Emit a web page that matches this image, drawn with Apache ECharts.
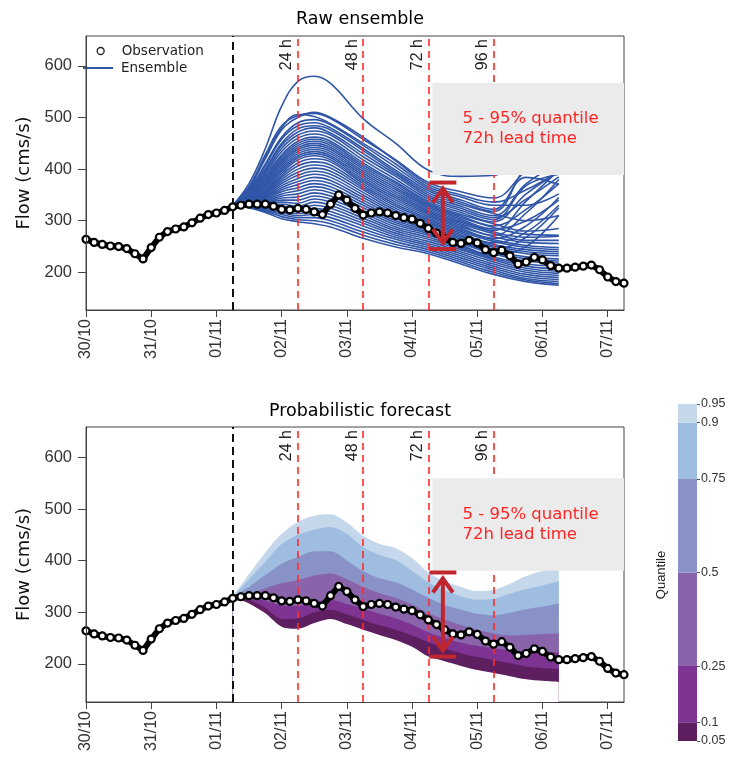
<!DOCTYPE html>
<html>
<head>
<meta charset="utf-8">
<script src="https://cdn.jsdelivr.net/npm/echarts@6/dist/echarts.min.js"></script>
<style>
  html, body { margin: 0; padding: 0; background: #fff; }
  #chart { width: 736px; height: 763px; }
</style>
</head>
<body>
<div id="chart"></div>
<script>
// ---- data -------------------------------------------------------------
// x axis is hours since 30/10 00:00; one label per day
const dayLabels = ['30/10', '31/10', '01/11', '02/11', '03/11', '04/11', '05/11', '06/11', '07/11'];
const flowTicks = [200, 300, 400, 500, 600];

// observed flow (cms/s), every 3 h from 30/10 00:00
const obsStepHours = 3;
const obsFlow = [
  264, 258, 254, 251, 250, 246, 236, 226, 248, 268,
  279, 284, 288, 296, 305, 312, 315, 320, 327, 330,
  332, 332, 332, 328, 322, 321, 324, 322, 317, 312,
  332, 350, 340, 324, 311, 315, 317, 315, 310, 306,
  303, 295, 285, 276, 266, 258, 256, 262, 257, 244,
  238, 243, 232, 216, 220, 229, 224, 213, 208, 208,
  210, 212, 214, 205, 191, 182, 179
];

// forecast issued 01/11 06:00
const issueHour = 54;
const leadMarks = [24, 48, 72, 96];
const leadMarkLabels = ['24 h', '48 h', '72 h', '96 h'];

// raw ensemble members, flow at these lead times (h)
const memberLeads = [0, 6, 12, 18, 24, 30, 36, 48, 60, 72, 84, 96, 108, 120];
const ensembleMembers = [
  [330, 372, 440, 522, 570, 580, 566, 498, 450, 398, 386, 388, 440, 470],
  [330, 366, 428, 484, 504, 508, 498, 458, 418, 374, 356, 344, 396, 430],
  [330, 364, 420, 476, 500, 510, 500, 462, 416, 370, 350, 336, 360, 395],
  [330, 362, 424, 480, 506, 502, 488, 450, 410, 366, 346, 330, 330, 352],
  [330, 360, 410, 462, 490, 496, 486, 446, 404, 362, 340, 322, 384, 370],
  [330, 358, 406, 458, 484, 490, 480, 440, 398, 358, 336, 318, 405, 450],
  [330, 357, 400, 450, 478, 484, 476, 436, 394, 354, 332, 314, 300, 310],
  [330, 355, 398, 446, 472, 480, 470, 430, 390, 350, 328, 310, 372, 410],
  [330, 354, 394, 440, 466, 474, 466, 424, 386, 346, 324, 306, 342, 385],
  [330, 352, 390, 434, 460, 468, 460, 418, 380, 342, 320, 302, 368, 390],
  [330, 351, 386, 428, 454, 462, 454, 412, 375, 338, 316, 298, 352, 395],
  [330, 350, 384, 424, 450, 458, 450, 408, 372, 335, 312, 294, 280, 285],
  [330, 349, 380, 420, 446, 454, 446, 404, 368, 332, 309, 290, 322, 372],
  [330, 348, 378, 416, 442, 450, 442, 400, 364, 329, 306, 287, 274, 272],
  [330, 347, 375, 412, 438, 446, 438, 396, 360, 326, 303, 284, 300, 340],
  [330, 346, 372, 408, 434, 442, 434, 392, 356, 323, 300, 281, 338, 398],
  [330, 345, 369, 404, 430, 438, 430, 388, 352, 320, 297, 278, 268, 270],
  [330, 344, 366, 400, 426, 434, 426, 384, 348, 317, 294, 275, 262, 262],
  [330, 343, 363, 396, 422, 430, 422, 380, 344, 314, 291, 272, 315, 380],
  [330, 342, 360, 392, 418, 426, 418, 376, 340, 311, 288, 269, 258, 256],
  [330, 341, 358, 388, 412, 420, 414, 372, 336, 308, 285, 266, 290, 345],
  [330, 340, 356, 384, 406, 414, 408, 368, 332, 305, 282, 263, 252, 248],
  [330, 339, 354, 380, 400, 408, 402, 364, 328, 302, 279, 260, 248, 244],
  [330, 338, 352, 376, 394, 402, 396, 360, 324, 299, 276, 257, 278, 330],
  [330, 338, 350, 372, 388, 396, 390, 355, 320, 296, 273, 254, 244, 240],
  [330, 337, 348, 368, 382, 390, 384, 350, 316, 293, 270, 251, 240, 236],
  [330, 336, 346, 364, 376, 384, 378, 345, 312, 290, 267, 248, 236, 232],
  [330, 336, 344, 360, 370, 378, 372, 340, 308, 287, 264, 245, 268, 325],
  [330, 335, 342, 356, 364, 372, 366, 335, 304, 284, 261, 242, 230, 226],
  [330, 334, 340, 352, 358, 366, 360, 330, 300, 281, 258, 239, 226, 222],
  [330, 334, 338, 348, 352, 360, 354, 325, 296, 278, 256, 236, 222, 218],
  [330, 333, 336, 344, 346, 354, 348, 320, 292, 275, 253, 233, 250, 310],
  [330, 332, 334, 340, 340, 348, 342, 315, 288, 272, 250, 230, 216, 212],
  [330, 332, 332, 336, 334, 342, 336, 310, 284, 268, 247, 227, 212, 207],
  [330, 331, 330, 332, 328, 336, 330, 305, 280, 264, 244, 224, 208, 202],
  [330, 330, 328, 328, 322, 330, 324, 300, 276, 260, 240, 220, 204, 198],
  [330, 330, 326, 324, 318, 324, 318, 295, 272, 256, 236, 216, 200, 194],
  [330, 329, 324, 320, 314, 318, 312, 290, 268, 252, 232, 212, 196, 190],
  [330, 328, 322, 316, 310, 312, 306, 284, 264, 248, 228, 208, 192, 186],
  [330, 327, 320, 312, 306, 306, 300, 278, 259, 244, 224, 204, 188, 182],
  [330, 326, 318, 308, 302, 300, 294, 272, 254, 240, 220, 200, 185, 178],
  [330, 325, 316, 304, 298, 294, 288, 266, 249, 236, 216, 196, 182, 175]
];
// 5 - 95 % range of the raw ensemble at 72 h lead time
const rawRange72 = [245, 374];

// calibrated forecast quantiles, every 6 h of lead time
const quantileLeads = [0, 6, 12, 18, 24, 30, 36, 42, 48, 54, 60, 66, 72, 78, 84, 90, 96, 102, 108, 114, 120];
const q05 = [330, 317, 298, 272, 268, 279, 287, 277, 266, 256, 246, 233, 214, 205, 196, 188, 182, 176, 170, 167, 165];
const q10 = [330, 324, 308, 287, 288, 300, 305, 296, 285, 275, 266, 255, 242, 230, 220, 213, 207, 201, 195, 192, 190];
const q25 = [330, 328, 322, 313, 312, 320, 324, 316, 307, 297, 288, 276, 261, 250, 241, 235, 230, 226, 224, 223, 222];
const q50 = [330, 336, 346, 356, 362, 371, 375, 364, 349, 337, 328, 315, 298, 286, 275, 266, 259, 255, 256, 258, 259];
const q75 = [330, 349, 372, 394, 407, 418, 418, 400, 380, 366, 358, 344, 328, 314, 305, 297, 294, 299, 306, 311, 317];
const q90 = [330, 364, 398, 432, 450, 460, 465, 452, 426, 411, 401, 380, 358, 342, 331, 324, 326, 336, 345, 352, 360];
const q95 = [330, 374, 416, 452, 475, 487, 490, 474, 448, 432, 424, 405, 377, 360, 349, 341, 343, 355, 370, 380, 387];

const quantileLevels = [0.05, 0.1, 0.25, 0.5, 0.75, 0.9, 0.95];
// band colours from the 0.05-0.1 band up to the 0.9-0.95 band
const bandColors = ['#5d1f60', '#7e3492', '#8964aa', '#8892c7', '#9ebde0', '#c5d7eb'];

// ---- styling ----------------------------------------------------------
const axisFont = '"Liberation Sans", Arial, sans-serif';
const textFont = '"DejaVu Sans", sans-serif';
const frameColor = '#444';
const ensembleColor = '#3056a8';
const X_MAX = 198;
const Y_RANGE = [[127, 658], [126, 659]];

const dayHours = dayLabels.map((_, i) => i * 24);

function xAxisCfg(gridIndex) {
  return {
    type: 'value', gridIndex, min: 0, max: X_MAX, z: 6,
    axisLine: { show: true, onZero: false, lineStyle: { color: frameColor } },
    axisTick: { show: true, length: 7, customValues: dayHours, lineStyle: { color: frameColor } },
    axisLabel: {
      customValues: dayHours, rotate: 90, margin: 9, color: '#333',
      fontFamily: axisFont, fontSize: 16,
      formatter: v => dayLabels[Math.round(v / 24)]
    },
    splitLine: { show: false }
  };
}

function yAxisCfg(gridIndex) {
  return {
    type: 'value', gridIndex, min: Y_RANGE[gridIndex][0], max: Y_RANGE[gridIndex][1], z: 6,
    name: 'Flow (cms/s)', nameLocation: 'middle', nameGap: 50, nameRotate: 90,
    nameTextStyle: { fontFamily: textFont, fontSize: 18, color: '#111' },
    axisLine: { show: true, lineStyle: { color: frameColor } },
    axisTick: { show: true, length: 8, customValues: flowTicks, lineStyle: { color: frameColor } },
    axisLabel: { customValues: flowTicks, margin: 14, color: '#333', fontFamily: axisFont, fontSize: 16.5 },
    splitLine: { show: false }
  };
}

const series = [];

// raw ensemble members
ensembleMembers.forEach(m => {
  series.push({
    type: 'line', name: 'Ensemble', xAxisIndex: 0, yAxisIndex: 0,
    data: memberLeads.map((l, i) => [issueHour + l, m[i]]),
    symbol: 'none', smooth: 0.4, silent: true, z: 2,
    lineStyle: { color: ensembleColor, width: 1.6 }
  });
});

// quantile fan: each quantile filled down to the axis floor, highest first,
// so every band shows between its own upper and lower quantile;
// the q05 fill is white to clear the area below the fan
const fanLines = [q95, q90, q75, q50, q25, q10, q05];
const fanFills = [bandColors[5], bandColors[4], bandColors[3], bandColors[2], bandColors[1], bandColors[0], '#ffffff'];
fanLines.forEach((q, k) => series.push({
  type: 'line', name: 'fan' + k, xAxisIndex: 1, yAxisIndex: 1,
  data: quantileLeads.map((l, i) => [issueHour + l, q[i]]),
  symbol: 'none', smooth: 0.3, silent: true, z: 2,
  lineStyle: { width: 0, opacity: 0 },
  areaStyle: { color: fanFills[k], opacity: 1, origin: 'start' }
}));

// forecast issue and lead-time markers
function markerLines(gridIndex) {
  const data = [{
    xAxis: issueHour, label: { show: false },
    lineStyle: { color: '#111', width: 2, type: [8, 5] }
  }];
  leadMarks.forEach((h, i) => data.push({
    xAxis: issueHour + h,
    lineStyle: { color: '#ff2a2a', width: 1.6, type: [7, 5] },
    label: {
      show: true, formatter: leadMarkLabels[i], position: 'insideEndTop', distance: 3,
      color: '#222', fontFamily: axisFont, fontSize: 16
    }
  }));
  return {
    type: 'line', name: 'markers' + gridIndex, xAxisIndex: gridIndex, yAxisIndex: gridIndex,
    data: [], silent: true, z: 3,
    markLine: { silent: true, symbol: 'none', animation: false, z: 3, data }
  };
}
series.push(markerLines(0), markerLines(1));

// observations on both panels
[0, 1].forEach(g => series.push({
  type: 'line', name: 'Observation', xAxisIndex: g, yAxisIndex: g,
  data: obsFlow.map((v, i) => [i * obsStepHours, v]),
  symbol: 'circle', symbolSize: 7, showAllSymbol: true, silent: true, z: 4,
  itemStyle: { color: '#fff', borderColor: '#000', borderWidth: 2.2 },
  lineStyle: { color: '#000', width: 6 }
}));

// grey annotation box
const boxLabel = '5 - 95% quantile\n72h lead time';
const boxRanges = [[388.6, 567], [380.4, 559.5]];
[0, 1].forEach(g => series.push({
  type: 'line', name: 'note' + g, xAxisIndex: g, yAxisIndex: g, data: [], silent: true, z: 10,
  markArea: {
    silent: true, z: 10,
    itemStyle: { color: '#ebebeb' },
    label: {
      show: true, position: 'insideLeft', distance: 30, formatter: boxLabel,
      color: '#ff2424', fontFamily: textFont, fontSize: 16.5, lineHeight: 20, align: 'left'
    },
    data: [[{ xAxis: 127.5, yAxis: boxRanges[g][0] }, { xAxis: X_MAX, yAxis: boxRanges[g][1] }]]
  }
}));

// 5 - 95 % double arrow at 72 h lead time
function rangeArrow(gridIndex, lo, hi) {
  return {
    type: 'custom', name: 'range' + gridIndex, xAxisIndex: gridIndex, yAxisIndex: gridIndex,
    z: 12, silent: true, clip: false,
    data: [[issueHour + 72, lo, hi]],
    renderItem(params, api) {
      const b = api.coord([api.value(0), api.value(1)]);
      const t = api.coord([api.value(0), api.value(2)]);
      const cx = b[0] + 14.5, yb = b[1], yt = t[1];
      const st = { stroke: '#c1262e', lineWidth: 4, fill: null };
      return {
        type: 'group', children: [
          { type: 'line', shape: { x1: cx - 13.5, y1: yt, x2: cx + 13.5, y2: yt }, style: st },
          { type: 'line', shape: { x1: cx - 13.5, y1: yb, x2: cx + 13.5, y2: yb }, style: st },
          { type: 'line', shape: { x1: cx, y1: yt + 5, x2: cx, y2: yb - 5 }, style: st },
          { type: 'polyline', shape: { points: [[cx - 10, yt + 20], [cx, yt + 6], [cx + 10, yt + 20]] }, style: st },
          { type: 'polyline', shape: { points: [[cx - 10, yb - 20], [cx, yb - 6], [cx + 10, yb - 20]] }, style: st }
        ]
      };
    }
  };
}
const q72 = quantileLeads.indexOf(72);
series.push(rangeArrow(0, rawRange72[0], rawRange72[1]));
series.push(rangeArrow(1, q05[q72], q95[q72]));

// colour key for the quantile bands
series.push({
  type: 'bar', name: 'keyBase', xAxisIndex: 2, yAxisIndex: 2, stack: 'key',
  data: [quantileLevels[0]], barWidth: '100%', silent: true,
  itemStyle: { color: 'transparent' }
});
for (let k = 1; k < quantileLevels.length; k++) {
  series.push({
    type: 'bar', name: 'key' + k, xAxisIndex: 2, yAxisIndex: 2, stack: 'key',
    data: [quantileLevels[k] - quantileLevels[k - 1]], barWidth: '100%', silent: true,
    itemStyle: { color: bandColors[k - 1] }
  });
}

const legendText = { fontFamily: textFont, fontSize: 13.5, color: '#222' };

const option = {
  animation: false,
  backgroundColor: '#fff',
  title: [
    { text: 'Raw ensemble', left: 355, top: 5, textAlign: 'center',
      textStyle: { fontFamily: textFont, fontSize: 17.5, fontWeight: 'normal', color: '#000' } },
    { text: 'Probabilistic forecast', left: 355, top: 397, textAlign: 'center',
      textStyle: { fontFamily: textFont, fontSize: 17.5, fontWeight: 'normal', color: '#000' } }
  ],
  legend: [
    { data: [{ name: 'Observation', icon: 'circle',
               itemStyle: { color: '#fff', borderColor: '#222', borderWidth: 1.3 } }],
      left: 96.5, top: 44, padding: 0, itemWidth: 7, itemHeight: 7, selectedMode: false,
      textStyle: Object.assign({ padding: [0, 0, 0, 12.5] }, legendText) },
    { data: [{ name: 'Ensemble', icon: 'rect', itemStyle: { color: ensembleColor } }],
      left: 83, top: 61, padding: 0, itemWidth: 30, itemHeight: 2, selectedMode: false,
      textStyle: Object.assign({ padding: [0, 0, 0, 3] }, legendText) }
  ],
  grid: [
    { left: 86, top: 36, width: 538, height: 274, show: true, borderColor: frameColor, borderWidth: 1, backgroundColor: 'transparent' },
    { left: 86, top: 427, width: 538, height: 275, show: true, borderColor: frameColor, borderWidth: 1, backgroundColor: 'transparent' },
    { left: 678, top: 404, width: 19, height: 337, show: false }
  ],
  xAxis: [
    xAxisCfg(0), xAxisCfg(1),
    { type: 'category', gridIndex: 2, data: ['q'], show: false }
  ],
  yAxis: [
    yAxisCfg(0), yAxisCfg(1),
    { type: 'value', gridIndex: 2, min: quantileLevels[0], max: quantileLevels[quantileLevels.length - 1],
      position: 'right', axisLine: { show: false }, splitLine: { show: false },
      axisTick: { show: true, length: 3, customValues: quantileLevels, lineStyle: { color: '#555' } },
      axisLabel: { customValues: quantileLevels, margin: 4, color: '#333', fontFamily: axisFont, fontSize: 12.5,
                   formatter: v => String(v) } }
  ],
  graphic: [
    { type: 'text', x: 661, y: 575, rotation: Math.PI / 2,
      style: { text: 'Quantile', fill: '#222', font: '13px ' + axisFont, textAlign: 'center', textVerticalAlign: 'middle' } }
  ],
  series
};

const chart = echarts.init(document.getElementById('chart'));
chart.setOption(option);
</script>
</body>
</html>
